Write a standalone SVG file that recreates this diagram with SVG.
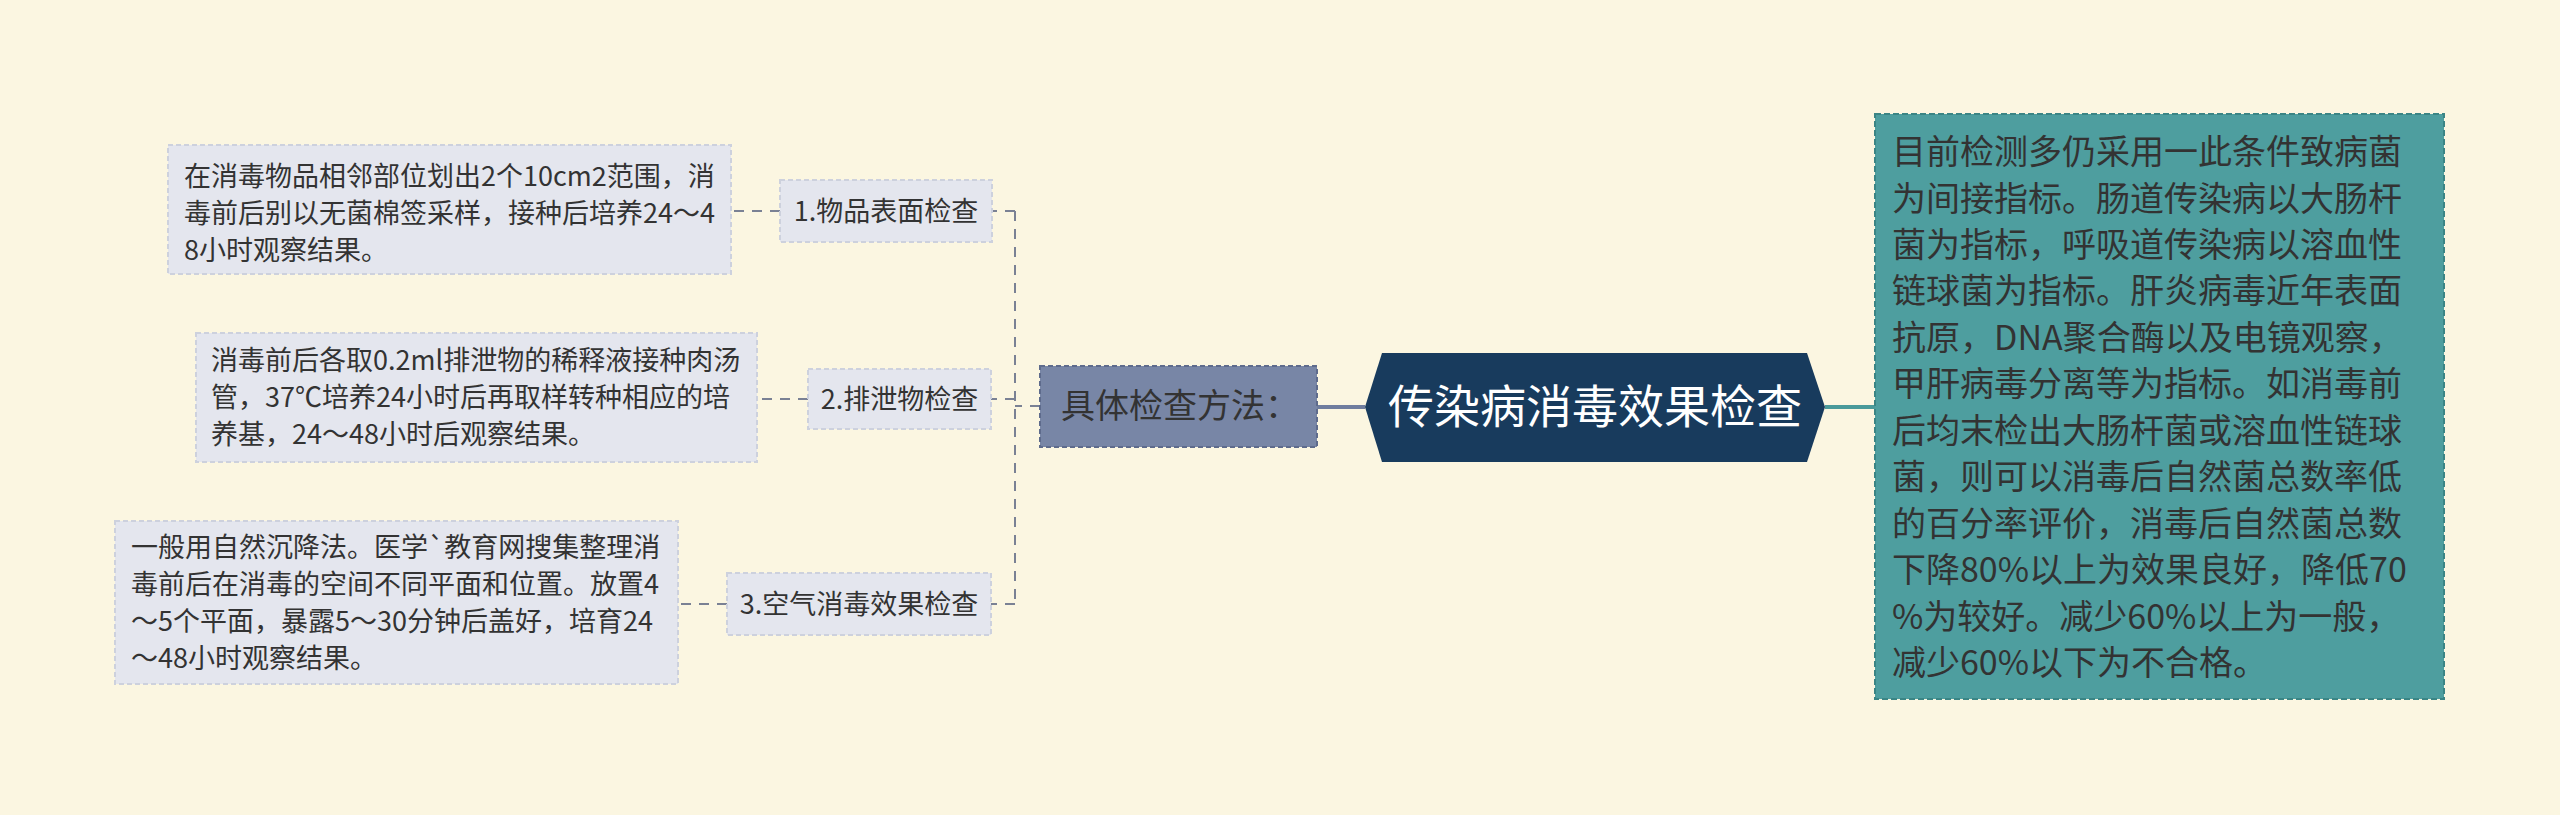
<svg xmlns="http://www.w3.org/2000/svg" width="2560" height="815" viewBox="0 0 2560 815">
<style>
.t{font-family:"Noto Sans CJK SC","Liberation Sans",sans-serif;fill:#333333}
.leaf{fill:#E4E6EE;stroke:#CDD1DD;stroke-width:2;stroke-dasharray:5 3}
.dash{fill:none;stroke:#7A8194;stroke-width:2;stroke-dasharray:10 8}
</style>
<rect x="0" y="0" width="2560" height="815" fill="#FBF6E1"/>
<g id="connectors">
<path class="dash" d="M1040 406 H1015 M1015 211 V604 M1015 211 H992 M1015 399 H991 M1015 604 H991 M780 211 H731 M808 399 H757 M727 604 H678"/>
<line x1="1317" y1="407" x2="1365" y2="407" stroke="#6F7D9E" stroke-width="4"/>
<line x1="1825" y1="407" x2="1875" y2="407" stroke="#4A9A9A" stroke-width="4"/>
</g>
<g id="root">
<polygon points="1365,407 1382,353 1807,353 1825,407 1807,462 1382,462" fill="#183B5D"/>
<text class="t" x="1595" y="423" font-size="46" text-anchor="middle" style="fill:#FFFFFF">传染病消毒效果检查</text>
</g>
<g id="methods">
<rect x="1040" y="366" width="277" height="81" fill="#7886A6" stroke="#5E6B8C" stroke-width="2" stroke-dasharray="5 3"/>
<text class="t" x="1180" y="418" font-size="34" text-anchor="middle">具体检查方法：</text>
</g>
<g id="summary">
<rect x="1875" y="114" width="569" height="585" fill="#4E9E9F" stroke="#3B8585" stroke-width="2" stroke-dasharray="6 3"/>
<text class="t" font-size="34">
<tspan x="1892" y="164">目前检测多仍采用一此条件致病菌</tspan>
<tspan x="1892" y="210.5">为间接指标。肠道传染病以大肠杆</tspan>
<tspan x="1892" y="257">菌为指标，呼吸道传染病以溶血性</tspan>
<tspan x="1892" y="303.4">链球菌为指标。肝炎病毒近年表面</tspan>
<tspan x="1892" y="349.8">抗原，DNA聚合酶以及电镜观察，</tspan>
<tspan x="1892" y="396.3">甲肝病毒分离等为指标。如消毒前</tspan>
<tspan x="1892" y="442.7">后均末检出大肠杆菌或溶血性链球</tspan>
<tspan x="1892" y="489.2">菌，则可以消毒后自然菌总数率低</tspan>
<tspan x="1892" y="535.6">的百分率评价，消毒后自然菌总数</tspan>
<tspan x="1892" y="582">下降80%以上为效果良好，降低70</tspan>
<tspan x="1892" y="628.5">%为较好。减少60%以上为一般，</tspan>
<tspan x="1892" y="675">减少60%以下为不合格。</tspan>
</text>
</g>
<g id="item1">
<rect class="leaf" x="780" y="180" width="212" height="62"/>
<text class="t" x="886" y="221" font-size="27" text-anchor="middle">1.物品表面检查</text>
</g>
<g id="item2">
<rect class="leaf" x="808" y="369" width="183" height="60"/>
<text class="t" x="899.5" y="409" font-size="27" text-anchor="middle">2.排泄物检查</text>
</g>
<g id="item3">
<rect class="leaf" x="727" y="573" width="264" height="62"/>
<text class="t" x="859" y="614" font-size="27" text-anchor="middle">3.空气消毒效果检查</text>
</g>
<g id="detail1">
<rect class="leaf" x="168" y="145" width="563" height="129"/>
<text class="t" font-size="27">
<tspan x="184" y="186">在消毒物品相邻部位划出2个10cm2范围，消</tspan>
<tspan x="184" y="223">毒前后别以无菌棉签采样，接种后培养24～4</tspan>
<tspan x="184" y="260">8小时观察结果。</tspan>
</text>
</g>
<g id="detail2">
<rect class="leaf" x="196" y="333" width="561" height="129"/>
<text class="t" font-size="27">
<tspan x="211" y="370">消毒前后各取0.2ml排泄物的稀释液接种肉汤</tspan>
<tspan x="211" y="407">管，37℃培养24小时后再取样转种相应的培</tspan>
<tspan x="211" y="444">养基，24～48小时后观察结果。</tspan>
</text>
</g>
<g id="detail3">
<rect class="leaf" x="115" y="521" width="563" height="163"/>
<text class="t" font-size="27">
<tspan x="131" y="557">一般用自然沉降法。医学`教育网搜集整理消</tspan>
<tspan x="131" y="594">毒前后在消毒的空间不同平面和位置。放置4</tspan>
<tspan x="131" y="631">～5个平面，暴露5～30分钟后盖好，培育24</tspan>
<tspan x="131" y="668">～48小时观察结果。</tspan>
</text>
</g>
</svg>
